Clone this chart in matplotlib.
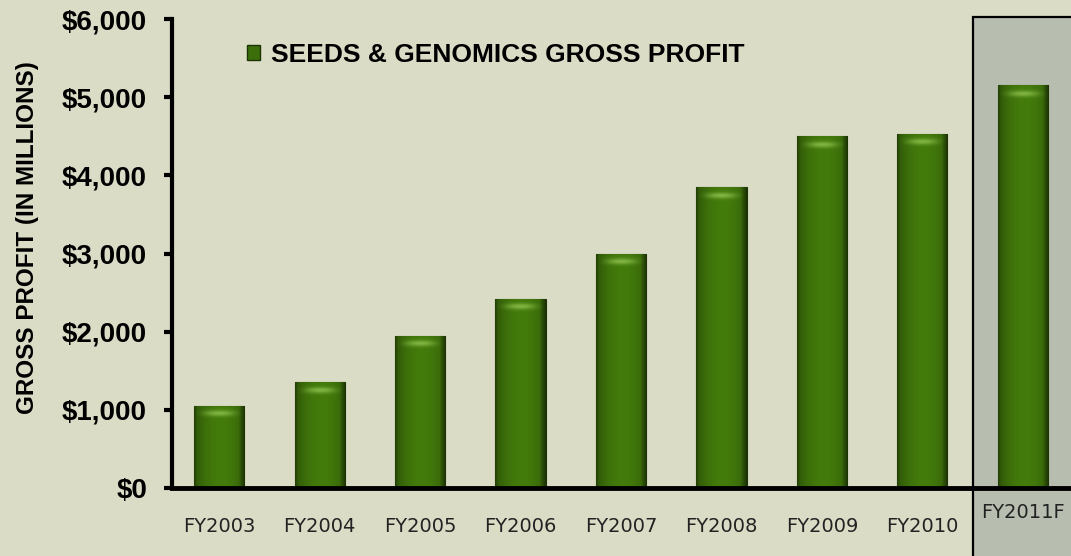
import numpy as np
import matplotlib
matplotlib.use("Agg")
import matplotlib.pyplot as plt
from matplotlib.patches import Patch, Rectangle
from matplotlib.ticker import FuncFormatter
import matplotlib.transforms as mtransforms

years = ["FY2003", "FY2004", "FY2005", "FY2006", "FY2007",
         "FY2008", "FY2009", "FY2010", "FY2011F"]
gross_profit = [1050, 1350, 1950, 2420, 3000, 3850, 4500, 4530, 5150]
y_ticks = [0, 1000, 2000, 3000, 4000, 5000, 6000]
legend_label = "SEEDS & GENOMICS GROSS PROFIT"
y_label = "GROSS PROFIT (IN MILLIONS)"

BG = "#dbdcc6"
BOX = "#b7beb0"
GREEN = "#3c6e0a"

W, H = 1071, 556
fig = plt.figure(figsize=(W / 100, H / 100), dpi=100, facecolor=BG)
ax = fig.add_axes([172 / W, 1 - 488 / H, 1 - 172 / W, (488 - 19) / H])
ax.patch.set_visible(False)

x = np.arange(len(years))
bars = ax.bar(x, gross_profit, width=0.5, color=GREEN, edgecolor="#1c3303",
              linewidth=0.8, zorder=3)

# shaded forecast box behind FY2011F
trans = mtransforms.blended_transform_factory(ax.transData, ax.transAxes)
ax.add_patch(Rectangle((7.5, -0.15), 2.0, 1.154, transform=trans,
                       facecolor=BOX, edgecolor="black", linewidth=1.6,
                       clip_on=False, zorder=0))

# simple cylinder-like shading on each bar
px_per_unit = (488 - 19) / 6000
nx, ny = 60, 300
t = np.linspace(0, 1, nx)
prof = 0.62 + 0.5 * np.sin(np.pi * (t * 0.85 + 0.05)) ** 0.7
prof[t > 0.88] *= np.linspace(1, 0.55, (t > 0.88).sum())
prof[t < 0.06] *= np.linspace(0.75, 1, (t < 0.06).sum())
base = np.array(matplotlib.colors.to_rgb(GREEN))
hl = np.array([0.55, 0.75, 0.30])
for b, v in zip(bars, gross_profit):
    h_px = v * px_per_unit
    yy = np.linspace(0, h_px, ny)[:, None]  # distance from top in px
    band = np.exp(-((yy - 8) / 3.0) ** 2) * np.sin(np.pi * t)[None, :] ** 2
    img = base[None, None, :] * prof[None, :, None]
    img = img * (1 - band[..., None] * 0.85) + hl[None, None, :] * band[..., None] * 0.85
    img = np.clip(img, 0, 1)
    x0 = b.get_x()
    im = ax.imshow(img, extent=(x0, x0 + b.get_width(), 0, v), origin="upper",
                   aspect="auto", zorder=3.5, interpolation="bilinear")
    im.set_clip_path(b)

ax.set_xlim(-0.47, 8.48)
ax.set_ylim(0, 6000)

for s in ["top", "right"]:
    ax.spines[s].set_visible(False)
ax.spines["left"].set_linewidth(3)
ax.spines["bottom"].set_linewidth(3.5)
ax.spines["bottom"].set_zorder(5)

ax.set_yticks(y_ticks)
ax.yaxis.set_major_formatter(FuncFormatter(lambda v, p: f"${v:,.0f}"))
ax.tick_params(axis="y", direction="out", length=6, width=3, pad=12,
               labelsize=20)
for lab in ax.get_yticklabels():
    lab.set_fontfamily("Liberation Sans")
    lab.set_fontweight("bold")

ax.set_xticks(x)
ax.set_xticklabels(years, fontsize=14, color="#222222", fontfamily="DejaVu Sans")
ax.tick_params(axis="x", length=0, pad=21)
ax.get_xticklabels()[-1].set_y(0.03)

ax.set_ylabel(y_label, fontsize=17.5, fontweight="bold",
              fontfamily="Liberation Sans")
ax.yaxis.set_label_coords(-0.148, 0.535)

handle = Patch(facecolor=GREEN, edgecolor="#1c3303")
fig.legend([handle], [legend_label], loc="center left",
           bbox_to_anchor=(247 / W, 1 - 55 / H), frameon=False,
           borderpad=0, borderaxespad=0, handlelength=0.5, handleheight=0.5,
           handletextpad=0.4,
           prop={"family": "Liberation Sans", "weight": "bold", "size": 19})

fig.savefig("out.png", dpi=100, facecolor=BG)
